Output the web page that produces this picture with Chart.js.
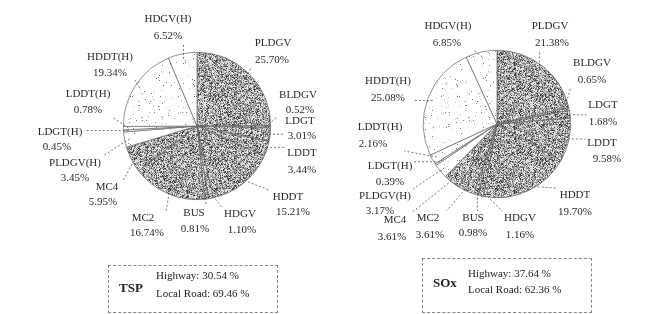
<!DOCTYPE html>
<html><head><meta charset="utf-8">
<script src="https://cdn.jsdelivr.net/npm/chart.js@4"></script>
<style>
html,body{margin:0;padding:0;background:#fff;width:653px;height:314px;overflow:hidden;font-family:"Liberation Serif",serif;color:#222}
.cv{position:absolute;top:0}
.box{position:absolute;border:1px dashed #888;box-sizing:border-box}
.box .t{position:absolute;font-weight:bold;font-size:13px}
.box .l{position:absolute;font-size:11px;white-space:nowrap}
</style></head><body>
<div class="cv" style="left:0;width:326px;height:314px"><canvas id="c1" width="326" height="314"></canvas></div>
<div class="cv" style="left:327px;width:326px;height:314px"><canvas id="c2" width="326" height="314"></canvas></div>
<div class="box" style="left:108px;top:265px;width:170px;height:48px">
  <div class="t" style="left:10px;top:14px">TSP</div>
  <div class="l" id="tspH" style="left:47px;top:3px"></div>
  <div class="l" id="tspL" style="left:47px;top:21px"></div>
</div>
<div class="box" style="left:422px;top:258px;width:170px;height:55px">
  <div class="t" style="left:10px;top:16px">SOx</div>
  <div class="l" id="soxH" style="left:45px;top:8px"></div>
  <div class="l" id="soxL" style="left:45px;top:24px"></div>
</div>
<script>
// ---- data ----
const categories = ["PLDGV","BLDGV","LDGT","LDDT","HDDT","HDGV","BUS","MC2","MC4","PLDGV(H)","LDGT(H)","LDDT(H)","HDDT(H)","HDGV(H)"];
const highwayFlags = [0,0,0,0,0,0,0,0,0,1,1,1,1,1];
const tspValues = [25.70,0.52,3.01,3.44,15.21,1.10,0.81,16.74,5.95,3.45,0.45,0.78,19.34,6.52];
const soxValues = [21.38,0.65,1.68,9.58,19.70,1.16,0.98,3.61,3.61,3.17,0.39,2.16,25.08,6.85];
const tspShares = {highway:30.54, local:69.46};
const soxShares = {highway:37.64, local:62.36};

// ---- label layout (page px): [nameX,nameY,valueX,valueY] ----
const tspLabelPos = [[273,43,272,60],[298,95,300,110],[300,121,302,136],[302,153,302,170],[288,197,293,212],[240,214,242,230],[194,213,195,229],[143,218,147,233],[107,187,103,202],[75,163,75,178],[60,132,57,147],[88,94,88,110],[110,57,110,73],[168,19,168,36]];
const soxLabelPos = [[550,26,552,43],[592,63,592,80],[603,105,603,122],[602,143,607,159],[575,195,575,212],[520,218,520,235],[473,218,473,233],[428,218,430,235],[395,220,392,237],[385,196,380,211],[390,166,390,182],[380,127,373,144],[388,81,388,98],[448,26,447,43]];

document.getElementById('tspH').textContent = 'Highway: ' + tspShares.highway.toFixed(2) + ' %';
document.getElementById('tspL').textContent = 'Local Road: ' + tspShares.local.toFixed(2) + ' %';
document.getElementById('soxH').textContent = 'Highway: ' + soxShares.highway.toFixed(2) + ' %';
document.getElementById('soxL').textContent = 'Local Road: ' + soxShares.local.toFixed(2) + ' %';

// ---- texture patterns (deterministic) ----
function makePattern(dark){
  const s=64, c=document.createElement('canvas'); c.width=s;c.height=s;
  const x=c.getContext('2d'); const img=x.createImageData(s,s);
  let seed = dark?12345:987;
  function rnd(){seed=(seed*1103515245+12345)&0x7fffffff;return seed/0x7fffffff;}
  for(let i=0;i<s*s;i++){
    let v;
    if(dark){const r=rnd(); v = r<0.14?60: r<0.4?125 : r<0.68?170 : 228;}
    else {const r=rnd(); v = r<0.012?120 : r<0.026?190 : 255;}
    img.data[i*4]=v;img.data[i*4+1]=v;img.data[i*4+2]=v;img.data[i*4+3]=255;
  }
  x.putImageData(img,0,0);
  return x.createPattern(c,'repeat');
}
const darkPat = makePattern(true), lightPat = makePattern(false);

const labelPlugin = {
  id:'outLabels',
  afterDraw(chart){
    const ctx=chart.ctx, meta=chart.getDatasetMeta(0);
    const pos=chart.options.plugins.outLabels.pos, off=chart.options.plugins.outLabels.offset;
    const vals=chart.data.datasets[0].data;
    ctx.save();
    ctx.font='11px "Liberation Serif", serif';
    ctx.textAlign='center'; ctx.textBaseline='middle';
    meta.data.forEach((arc,i)=>{
      const p=pos[i]; const nx=p[0]-off, ny=p[1], vx=p[2]-off, vy=p[3];
      const name=chart.data.labels[i], val=vals[i].toFixed(2)+'%';
      const w=Math.max(ctx.measureText(name).width, ctx.measureText(val).width);
      const bx0=Math.min(nx,vx)-w/2-2, bx1=Math.max(nx,vx)+w/2+2, by0=ny-7, by1=vy+7;
      const mid=(arc.startAngle+arc.endAngle)/2;
      const ax=arc.x+Math.cos(mid)*arc.outerRadius*0.93, ay=arc.y+Math.sin(mid)*arc.outerRadius*0.93;
      const ex=Math.min(Math.max(ax,bx0),bx1), ey=Math.min(Math.max(ay,by0),by1);
      ctx.strokeStyle='#555'; ctx.lineWidth=0.8; ctx.setLineDash([2,2]);
      ctx.beginPath(); ctx.moveTo(ax,ay); ctx.lineTo(ex,ey); ctx.stroke();
      ctx.setLineDash([]);
      ctx.fillStyle='#2a2a2a';
      ctx.fillText(name,nx,ny); ctx.fillText(val,vx,vy);
    });
    ctx.restore();
  }
};

function makeChart(id, values, pos, offset, padding){
  return new Chart(document.getElementById(id),{
    type:'pie',
    data:{labels:categories,datasets:[{data:values,
      backgroundColor:highwayFlags.map(h=>h?lightPat:darkPat),
      borderColor:'#666',borderWidth:0.7}]},
    options:{responsive:false,animation:false,
      layout:{padding:padding},
      plugins:{legend:{display:false},tooltip:{enabled:false},outLabels:{pos:pos,offset:offset}}},
    plugins:[labelPlugin]
  });
}
makeChart('c1', tspValues, tspLabelPos, 0, {left:123,right:55,top:52,bottom:114});
makeChart('c2', soxValues, soxLabelPos, 327, {left:96,right:82,top:50,bottom:116});
</script>
</body></html>
